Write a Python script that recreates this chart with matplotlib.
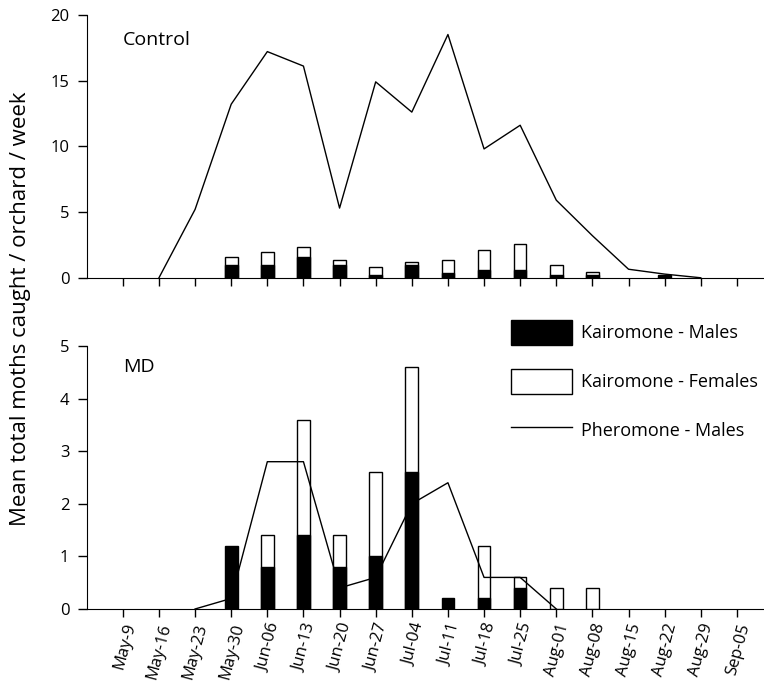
import numpy as np
import matplotlib.pyplot as plt
from matplotlib.patches import Patch
from matplotlib.lines import Line2D

plt.rcParams['font.family'] = ['Open Sans', 'DejaVu Sans']

weeks = ['May-9', 'May-16', 'May-23', 'May-30', 'Jun-06', 'Jun-13', 'Jun-20',
         'Jun-27', 'Jul-04', 'Jul-11', 'Jul-18', 'Jul-25', 'Aug-01', 'Aug-08',
         'Aug-15', 'Aug-22', 'Aug-29', 'Sep-05']

# Control orchards (None = no point)
ctrl_pher = [None, 0, 5.2, 13.2, 17.2, 16.1, 5.3, 14.9, 12.6, 18.5, 9.8, 11.6,
             5.9, 3.2, 0.65, 0.28, 0, None]
ctrl_kair_m = [0, 0, 0, 1.0, 1.0, 1.55, 1.0, 0.2, 1.0, 0.4, 0.6, 0.6,
               0.18, 0.22, 0, 0.2, 0, 0]
ctrl_kair_f = [0, 0, 0, 0.55, 0.95, 0.8, 0.35, 0.6, 0.2, 0.95, 1.55, 2.0,
               0.8, 0.2, 0, 0, 0, 0]

# Mating disruption orchards
md_pher = [None, None, 0, 0.2, 2.8, 2.8, 0.4, 0.6, 2.0, 2.4, 0.6, 0.6,
           0, None, None, None, None, None]
md_kair_m = [0, 0, 0, 1.2, 0.8, 1.4, 0.8, 1.0, 2.6, 0.2, 0.2, 0.4,
             0, 0, 0, 0, 0, 0]
md_kair_f = [0, 0, 0, 0, 0.6, 2.2, 0.6, 1.6, 2.0, 0, 1.0, 0.2,
             0.4, 0.4, 0, 0, 0, 0]

x = np.arange(len(weeks))
bar_w = 0.35

fig = plt.figure(figsize=(7.64, 6.91), dpi=100)
ax1 = fig.add_axes([0.1135, 0.598, 0.8865, 0.3806])
ax2 = fig.add_axes([0.1135, 0.1187, 0.8865, 0.3806])


def draw_panel(ax, pher, males, females, ymax, yticks, name, name_y):
    males = np.array(males, dtype=float)
    females = np.array(females, dtype=float)
    has_m = males > 0
    has_f = females > 0
    ax.bar(x[has_f], (males + females)[has_f], bar_w, color='white',
           edgecolor='black', linewidth=1.0, zorder=2)
    ax.bar(x[has_m], males[has_m], bar_w, color='black',
           edgecolor='black', linewidth=1.0, zorder=3)
    px = [i for i, v in enumerate(pher) if v is not None]
    py = [v for v in pher if v is not None]
    ax.plot(px, py, color='black', linewidth=1.0, zorder=4)
    ax.set_xlim(-1, 17.75)
    ax.set_ylim(0, ymax)
    ax.set_yticks(yticks)
    ax.set_xticks(x)
    ax.spines['top'].set_visible(False)
    ax.spines['right'].set_visible(False)
    ax.tick_params(axis='y', direction='out', length=6.5, width=1,
                   labelsize=12, pad=6)
    ax.tick_params(axis='x', direction='out', length=5.5, width=1)
    ax.text(0, name_y, name, fontsize=14, va='center', ha='left')


draw_panel(ax1, ctrl_pher, ctrl_kair_m, ctrl_kair_f, 20, [0, 5, 10, 15, 20],
           'Control', 18.1)
ax1.set_xticklabels([])

draw_panel(ax2, md_pher, md_kair_m, md_kair_f, 5, [0, 1, 2, 3, 4, 5],
           'MD', 4.6)
ax2.set_xticklabels(weeks, rotation=75, ha='right', rotation_mode='anchor',
                    fontsize=12)

handles = [Patch(facecolor='black', edgecolor='black', label='Kairomone - Males'),
           Patch(facecolor='white', edgecolor='black', label='Kairomone - Females'),
           Line2D([0], [0], color='black', linewidth=1.0, label='Pheromone - Males')]
ax2.legend(handles=handles, loc='upper left', frameon=False, fontsize=13,
           bbox_to_anchor=(511 / 764, 1 - 320 / 691), bbox_transform=fig.transFigure,
           borderpad=0, borderaxespad=0, handlelength=3.4, handleheight=1.75,
           handletextpad=0.48, labelspacing=1.33)

fig.text(0.027, 0.5535, 'Mean total moths caught / orchard / week', rotation=90,
         fontsize=16, ha='center', va='center')

fig.savefig('out.png', dpi=100)
